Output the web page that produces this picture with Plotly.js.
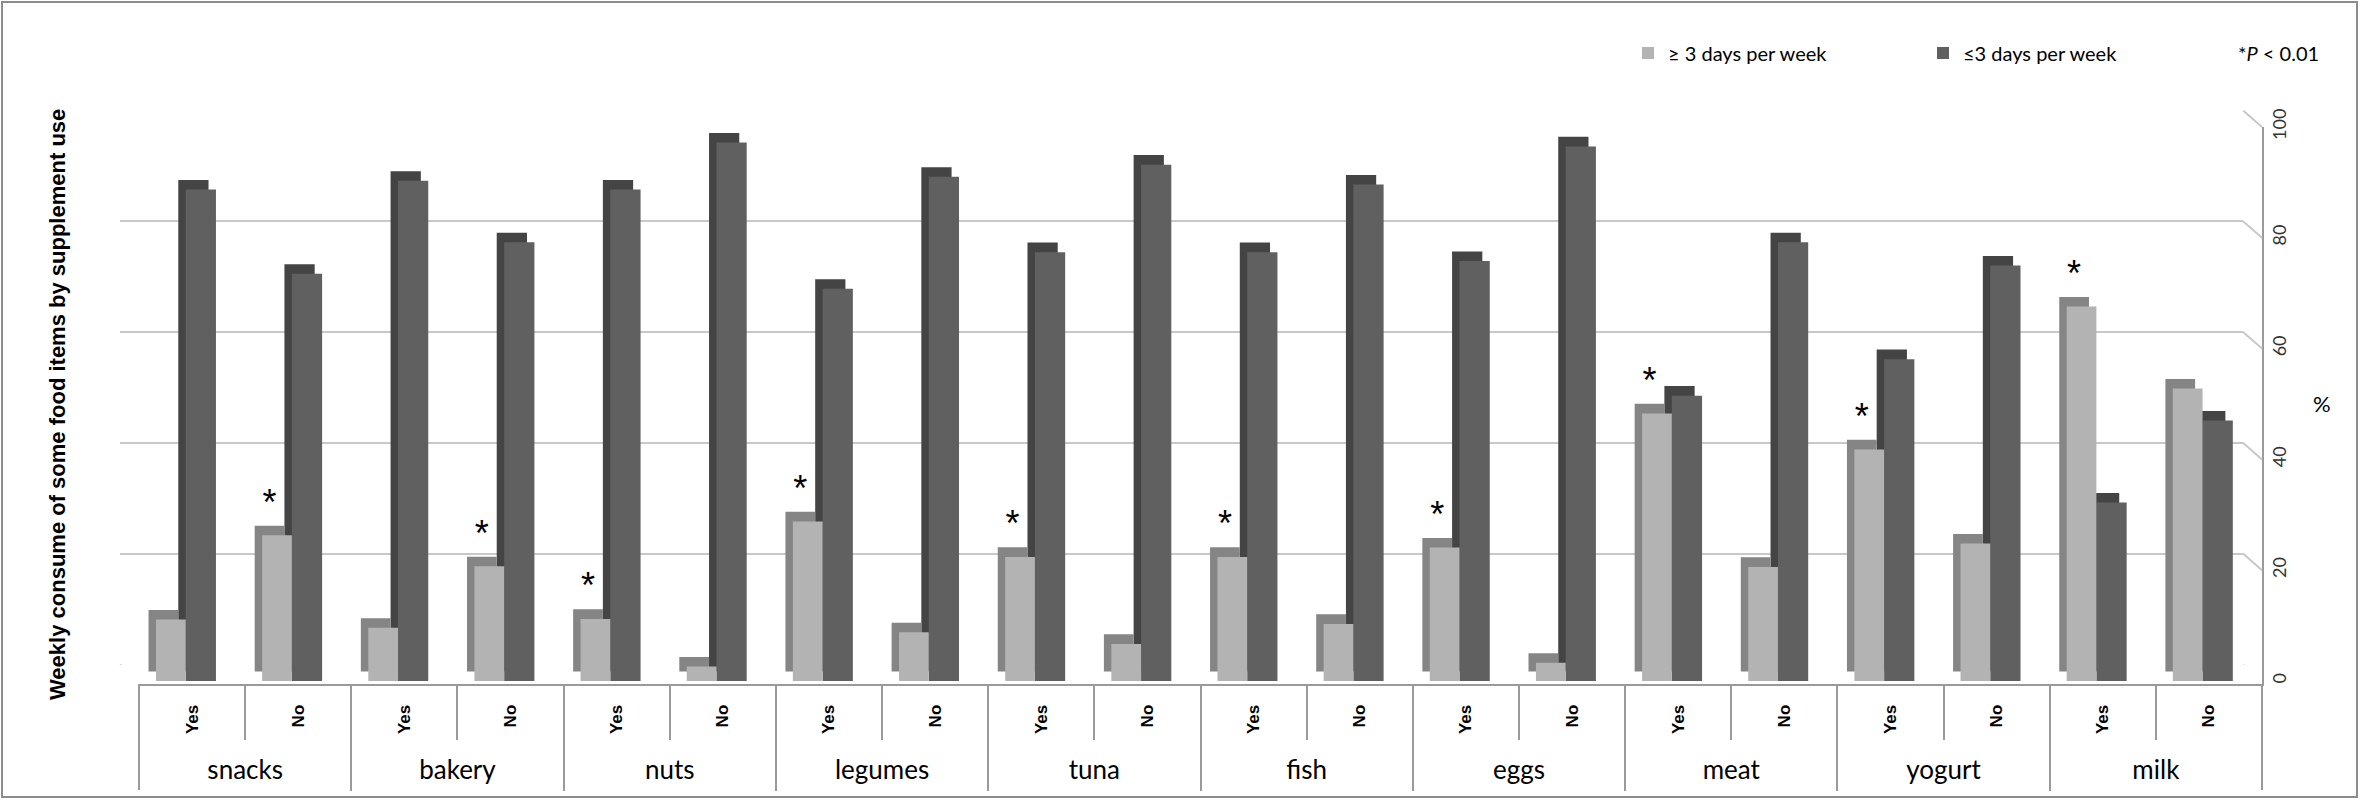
<!DOCTYPE html>
<html lang="en">
<head>
<meta charset="UTF-8">
<title>Weekly consume of some food items by supplement use</title>
<script src="https://cdn.plot.ly/plotly-3.0.1.min.js"></script>
<style>
    html, body { margin: 0; padding: 0; background: #fff; }
    #chart { width: 2360px; height: 800px; }
</style>
</head>
<body>
<div id="chart"></div>
<script>
    // data (% of each group)
    var foods = ['snacks', 'bakery', 'nuts', 'legumes', 'tuna', 'fish', 'eggs', 'meat', 'yogurt', 'milk'];
    var supplementUse = ['Yes', 'No'];
    // order: snacks Yes, snacks No, bakery Yes, ...
    var threeOrMore = [11.1, 26.3, 9.6, 20.7, 11.2, 2.6, 28.8, 8.8, 22.4, 6.7,
                       22.4, 10.3, 24.1, 3.3, 48.3, 20.6, 41.8, 24.8, 67.6, 52.8];
    var threeOrLess = [88.7, 73.5, 90.3, 79.2, 88.7, 97.2, 70.8, 91.0, 77.4, 93.2,
                       77.4, 89.6, 75.8, 96.5, 51.5, 79.2, 58.1, 75.0, 32.2, 47.0];
    var significant = ['', '*', '', '*', '*', '', '*', '', '*', '',
                       '*', '', '*', '', '*', '', '*', '', '*', ''];
    var yTicks = [0, 20, 40, 60, 80, 100];

    // geometry of the fake 3d box (px)
    var W = 2360, H = 800;
    var FRONT_LEFT = 139, FRONT_RIGHT = 2262, DEPTH_X = 19;
    var Y0 = 681, PPU = 5.54;          // zero line of the bars, px per unit
    var FLOOR = 0.6, WALL = 3;         // units
    var TABLE_BOTTOM = 790;
    var BAR_DX = 0.07, BAR_DY = 1.73;  // bar depth (slot units / value units)

    function px(x) { return x / W; }
    function py(y) { return 1 - y / H; }

    var outer = [], inner = [];
    foods.forEach(function (f) {
        supplementUse.forEach(function (s) {
            outer.push(f);
            inner.push(s);
        });
    });
    var xCats = [outer, inner];
    var slotIdx = inner.map(function (s, i) { return i; });
    var slotEdges = inner.map(function (s, i) { return i + 0.5; }).slice(0, -1);
    var foodIdx = foods.map(function (f, i) { return i; });
    var foodEdges = foods.map(function (f, i) { return i + 0.5; }).slice(0, -1);

    var lightFace = '#b3b3b3', lightSide = '#858585';
    var darkFace = '#606060', darkSide = '#444444';

    function depthBar(vals, offset, width, color, text) {
        return {
            type: 'bar', x: xCats, y: vals, base: BAR_DY,
            offset: offset - BAR_DX, width: width,
            marker: { color: color, line: { width: 0 } },
            text: text, textposition: 'outside', cliponaxis: false,
            textfont: { family: 'Liberation Sans', size: 36, color: '#000' },
            constraintext: 'none',
            xaxis: 'x2', yaxis: 'y2', showlegend: false, hoverinfo: 'skip'
        };
    }
    function faceBar(vals, offset, width, color, name, rank) {
        return {
            type: 'bar', x: xCats, y: vals, name: name,
            offset: offset, width: width,
            marker: { color: color, line: { width: 0 } },
            xaxis: 'x2', yaxis: 'y2', legendrank: rank, hoverinfo: 'skip'
        };
    }
    // empty holder so the label axes get their own subplot
    function labelHolder(xs, xa, ya) {
        return {
            type: 'scatter', mode: 'markers', x: xs, y: xs.map(function () { return null; }),
            xaxis: xa, yaxis: ya, showlegend: false, hoverinfo: 'skip'
        };
    }

    var traces = [
        depthBar(threeOrLess, -0.06, 0.285, darkSide, null),
        faceBar(threeOrLess, -0.06, 0.285, darkFace, '\u22643 days per week', 2),
        depthBar(threeOrMore, -0.34, 0.28, lightSide, significant),
        faceBar(threeOrMore, -0.34, 0.28, lightFace, '\u2265 3 days per week', 1),
        labelHolder(slotIdx, 'x3', 'y3'),
        labelHolder(foodIdx, 'x4', 'y4')
    ];

    var gridColor = '#c8c8c8';
    var lineColor = '#9a9a9a';
    var tableTop = Y0 + FLOOR * PPU;
    var frontDomainX = [px(FRONT_LEFT), px(FRONT_RIGHT)];
    var frontDomainY = [py(tableTop), py(Y0 - 100 * PPU)];

    var shapes = [];
    // right wall edges of the back grid
    yTicks.forEach(function (v) {
        shapes.push({ type: 'line', xref: 'paper', yref: 'y',
            x0: px(FRONT_RIGHT - DEPTH_X), y0: v, x1: px(FRONT_RIGHT), y1: v - WALL,
            line: { color: gridColor, width: 2 } });
    });
    // left floor edge
    shapes.push({ type: 'line', xref: 'paper', yref: 'y',
        x0: px(FRONT_LEFT - DEPTH_X), y0: 0, x1: px(FRONT_LEFT), y1: -(WALL + FLOOR),
        line: { color: lineColor, width: 2 } });
    // left and right edges of the label table
    [FRONT_LEFT, FRONT_RIGHT].forEach(function (xp) {
        shapes.push({ type: 'line', xref: 'paper', yref: 'paper',
            x0: px(xp), y0: py(tableTop), x1: px(xp), y1: py(TABLE_BOTTOM),
            line: { color: lineColor, width: 2 } });
    });
    // frame
    shapes.push({ type: 'rect', xref: 'paper', yref: 'paper',
        x0: px(2), y0: py(797), x1: px(2357), y1: py(2),
        line: { color: '#8c8c8c', width: 2 } });

    var hiddenY = { domain: frontDomainY, range: [0, 1], showticklabels: false,
                    showgrid: false, zeroline: false, showline: false, ticks: '' };

    var layout = {
        width: W, height: H,
        margin: { l: 0, r: 0, t: 0, b: 0 },
        paper_bgcolor: '#fff', plot_bgcolor: 'rgba(0,0,0,0)',
        barmode: 'overlay', hovermode: false,
        // back wall with the grid
        xaxis: {
            domain: [px(FRONT_LEFT - DEPTH_X), px(FRONT_RIGHT - DEPTH_X)],
            range: [0, 1], visible: false, anchor: 'y'
        },
        yaxis: {
            domain: [py(Y0 - WALL * PPU), py(Y0 - (100 + WALL) * PPU)],
            range: [0, 100], tickvals: yTicks, showticklabels: false,
            showgrid: true, gridcolor: gridColor, gridwidth: 2,
            zeroline: false, showline: false, anchor: 'x'
        },
        // front: bars
        xaxis2: {
            type: 'multicategory', anchor: 'y2', domain: frontDomainX,
            range: [-0.5, slotIdx.length - 0.5],
            showline: true, linecolor: lineColor, linewidth: 2,
            ticks: '', showticklabels: false, showdividers: false, showgrid: false
        },
        yaxis2: {
            anchor: 'x2', side: 'right', domain: frontDomainY,
            range: [-FLOOR, 100], tickvals: yTicks,
            tickangle: -90, ticks: '',
            tickfont: { family: 'Lato', size: 18, color: '#333' },
            showgrid: false, zeroline: false,
            showline: true, linecolor: lineColor, linewidth: 2
        },
        // Yes / No row of the table
        xaxis3: {
            type: 'linear', anchor: 'y3', domain: frontDomainX,
            range: [-0.5, slotIdx.length - 0.5],
            tickmode: 'array', tickvals: slotIdx, ticktext: inner,
            ticks: '', tickangle: -90, ticklabelstandoff: 16,
            tickfont: { family: 'Liberation Sans', size: 17, color: '#000', weight: 'bold' },
            minor: { tickmode: 'array', tickvals: slotEdges, ticks: 'outside',
                     ticklen: 739 - tableTop, tickcolor: lineColor, tickwidth: 2, showgrid: false },
            showgrid: false, zeroline: false, showline: false
        },
        yaxis3: Object.assign({ anchor: 'x3' }, hiddenY),
        // food row of the table
        xaxis4: {
            type: 'linear', anchor: 'y4', domain: frontDomainX,
            range: [-0.5, foods.length - 0.5],
            tickmode: 'array', tickvals: foodIdx, ticktext: foods,
            ticks: '', ticklabelstandoff: 68,
            tickfont: { family: 'Lato', size: 26, color: '#000' },
            minor: { tickmode: 'array', tickvals: foodEdges, ticks: 'outside',
                     ticklen: TABLE_BOTTOM - tableTop, tickcolor: lineColor, tickwidth: 2, showgrid: false },
            showgrid: false, zeroline: false, showline: false
        },
        yaxis4: Object.assign({ anchor: 'x4' }, hiddenY),
        legend: {
            orientation: 'h', x: px(1628), y: py(53), xanchor: 'left', yanchor: 'middle',
            font: { family: 'Lato', size: 20, color: '#000' },
            entrywidth: 250, bgcolor: 'rgba(0,0,0,0)', traceorder: 'normal'
        },
        annotations: [
            { xref: 'paper', yref: 'paper', x: px(57), y: py(405), xanchor: 'center', yanchor: 'middle',
              textangle: -90, showarrow: false,
              text: 'Weekly consume of some food items by supplement use',
              font: { family: 'Liberation Sans', size: 22, color: '#000', weight: 'bold' } },
            { xref: 'paper', yref: 'paper', x: px(2322), y: py(403), xanchor: 'center', yanchor: 'middle',
              showarrow: false, text: '%', font: { family: 'Lato', size: 22, color: '#000' } },
            { xref: 'paper', yref: 'paper', x: px(2278), y: py(53), xanchor: 'center', yanchor: 'middle',
              showarrow: false, text: '*<i>P</i> < 0.01',
              font: { family: 'Lato', size: 20, color: '#000' } }
        ],
        shapes: shapes
    };

    Plotly.newPlot('chart', traces, layout, { staticPlot: true });
</script>
</body>
</html>
